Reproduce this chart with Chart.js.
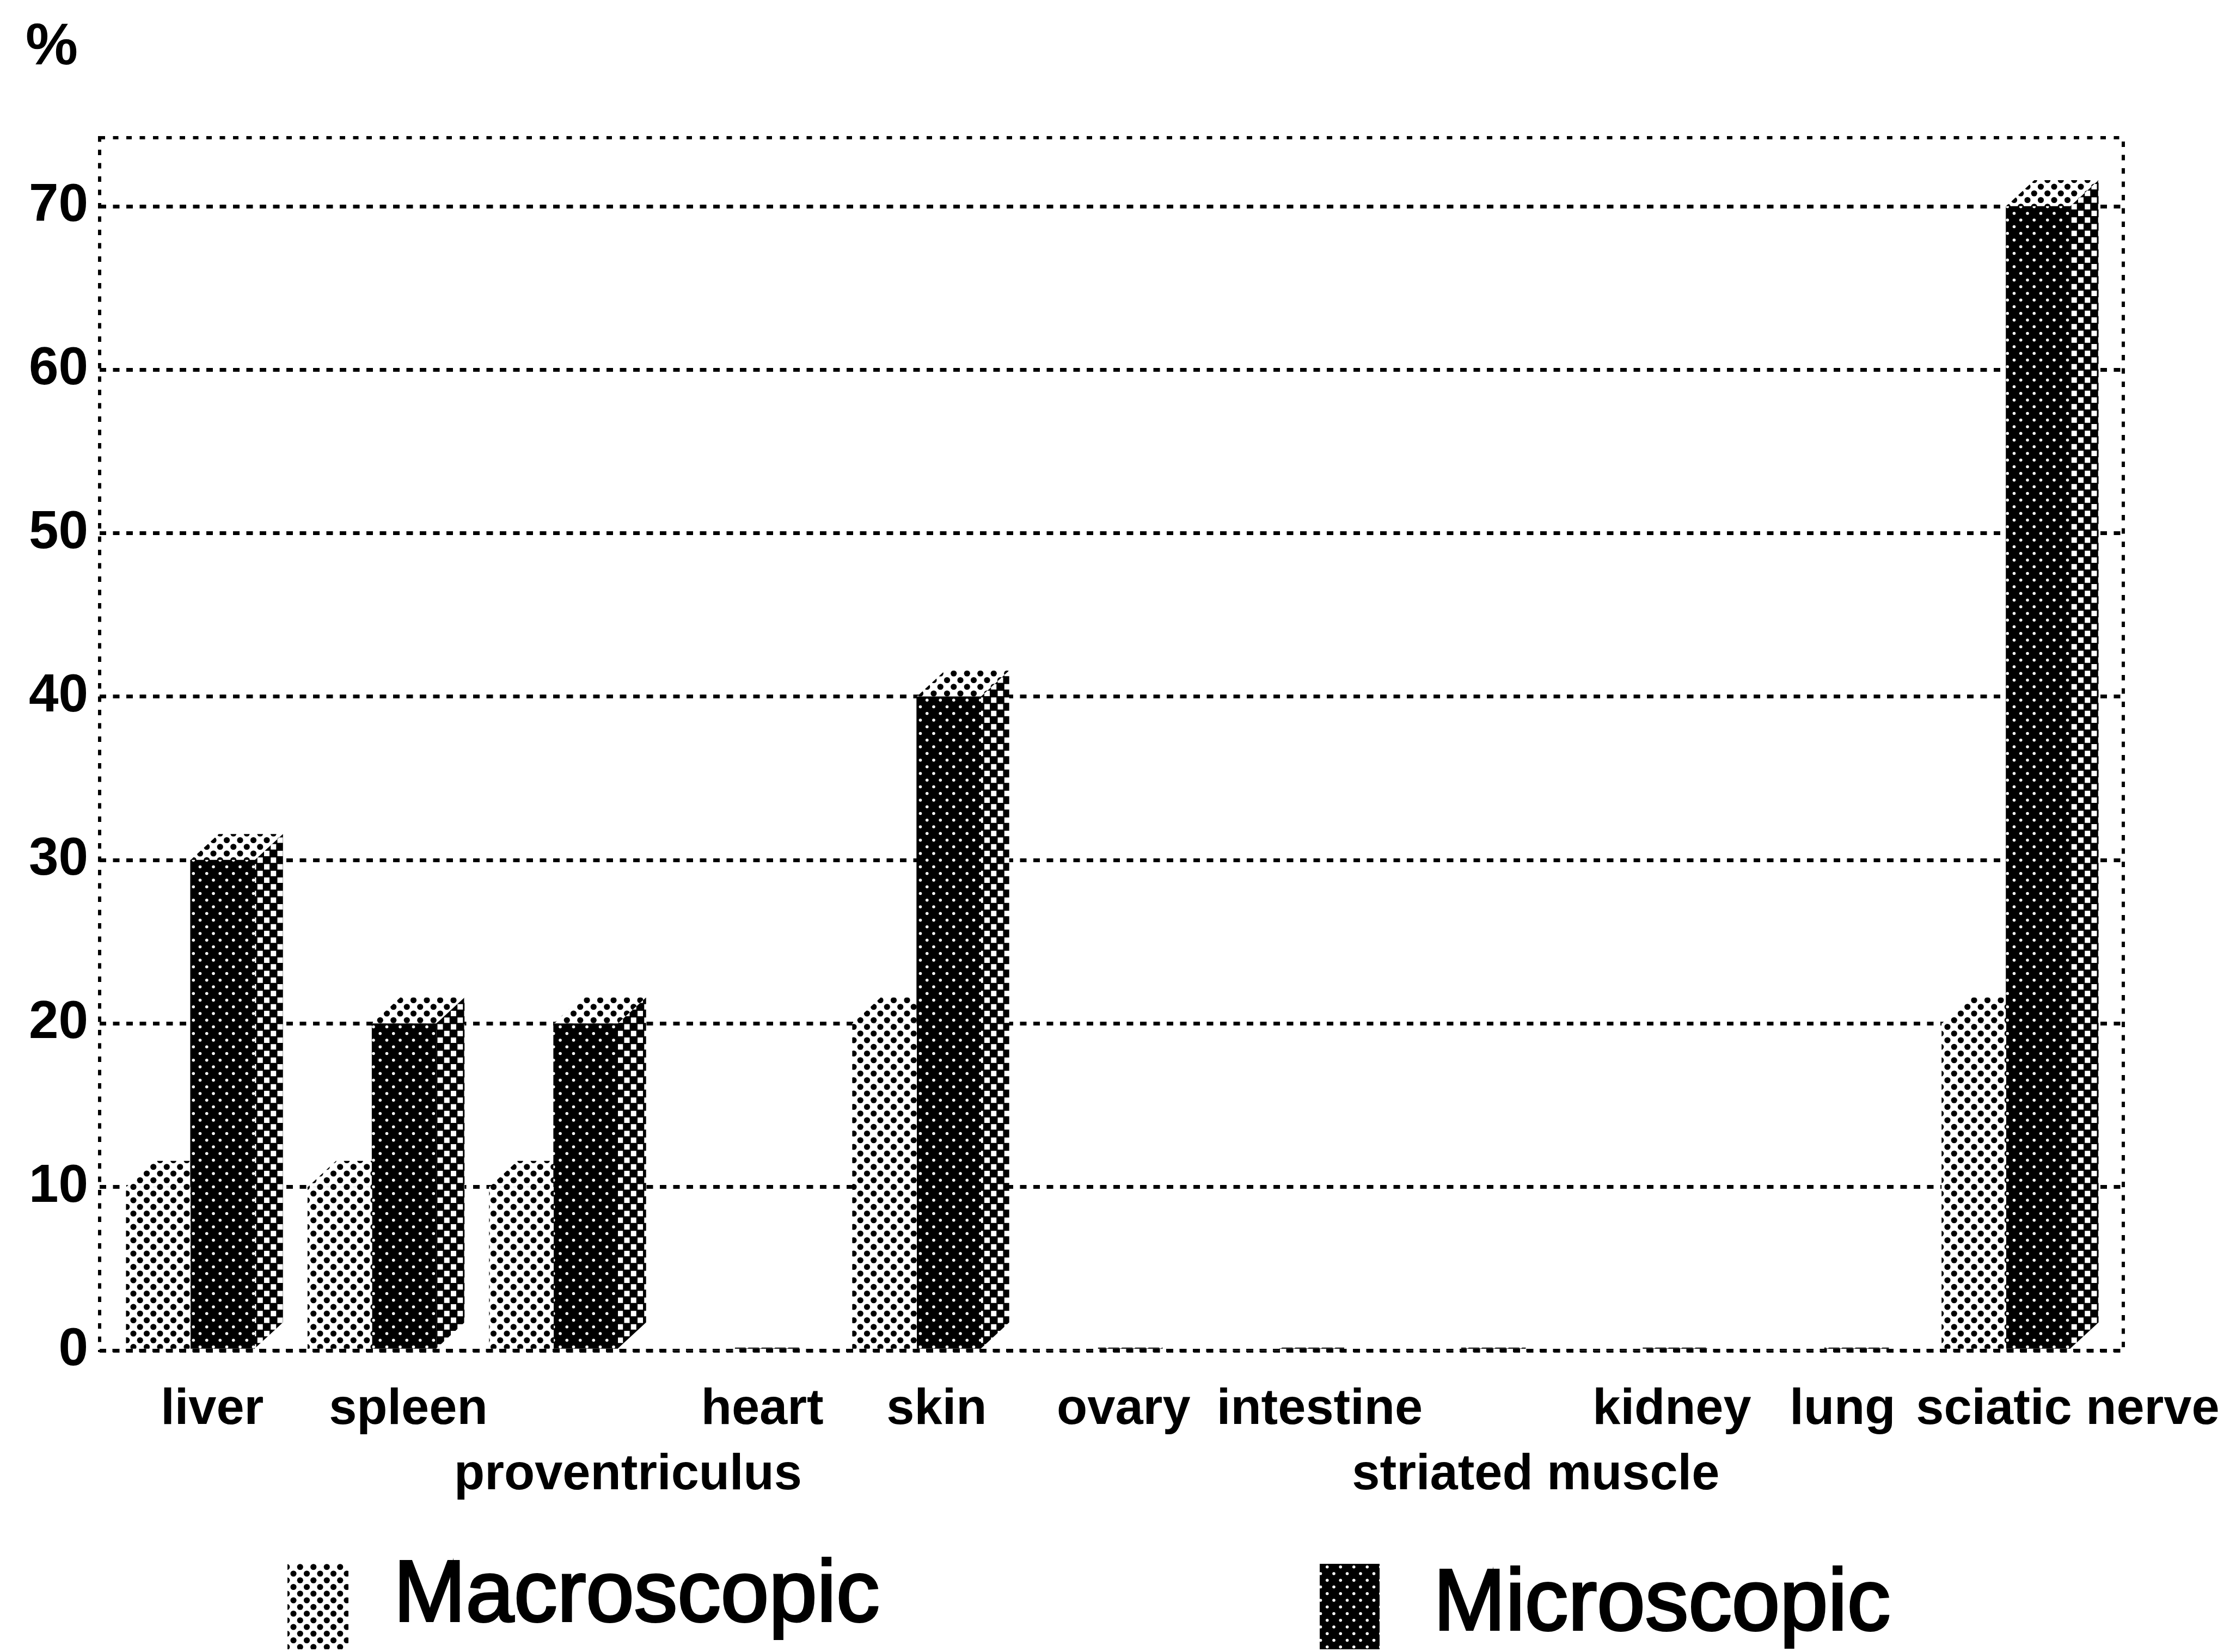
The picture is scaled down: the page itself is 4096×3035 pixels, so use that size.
<!DOCTYPE html>
<html>
<head>
<meta charset="utf-8">
<title>chart</title>
<style>
html,body{margin:0;padding:0;background:#fff;}
canvas{display:block;}
</style>
<script src="https://cdn.jsdelivr.net/npm/chart.js@4"></script>
</head>
<body>
<canvas id="myChart" width="4096" height="3035"></canvas>
<script>
// values
var categories = ['liver','spleen','proventriculus','heart','skin','ovary','intestine','striated muscle','kidney','lung','sciatic nerve'];
var macroscopic = [10,10,10,0,20,0,0,0,0,0,20];
var microscopic = [30,20,20,0,40,0,0,0,0,0,70];
var seriesNames = ['Macroscopic','Microscopic'];
var yTicks = [0,10,20,30,40,50,60,70];

// layout, in window pixels
var cellW = 24.5, cellH = 12.25;
var depthX = 52, depthY = 48;
var labelNudge = [.12,.20,.41,.15,.11,.14,.22,.41,.16,.10,.34]; // labels sit right of their bars
var secondRow = [2,7];

// halftone tile, everything in it on a staggered grid
function halftone(bg, fg, size, square){
	var tile = document.createElement('canvas');
	tile.width = 49; tile.height = 49;
	var c = tile.getContext('2d');
	c.fillStyle = bg;
	c.fillRect(0,0,49,49);
	c.fillStyle = fg;
	for(var row=-1; row<=4; row++){
		for(var col=-1; col<=2; col++){
			var x = col*cellW + (row%2 ? cellW/2 : 0);
			var y = row*cellH;
			if(square){
				c.fillRect(x-size,y-size,size*2,size*2);
			}else{
				c.beginPath();
				c.arc(x,y,size,0,Math.PI*2);
				c.fill();
			}
		}
	}
	return document.getElementById('myChart').getContext('2d').createPattern(tile,'repeat');
}

var lightDots = halftone('#fff','#000',5.6,false);
var darkFront = halftone('#000','#fff',2.8,false);
var darkSide = halftone('#000','#fff',5,true);

function poly(ctx, pts, fill){
	ctx.fillStyle = fill;
	ctx.beginPath();
	ctx.moveTo(pts[0][0],pts[0][1]);
	for(var i=1;i<pts.length;i++){ ctx.lineTo(pts[i][0],pts[i][1]); }
	ctx.closePath();
	ctx.fill();
}

// frame and the fake 3d depth go under the library's bars
var depthPlugin = {
	id:'depth',
	beforeDatasetsDraw:function(chart){
		var ctx = chart.ctx, a = chart.chartArea;
		ctx.save();
		ctx.strokeStyle = '#000';
		ctx.lineWidth = 6;
		ctx.setLineDash([10,14.5]);
		ctx.strokeRect(a.left,a.top,a.right-a.left,a.bottom-a.top);
		ctx.setLineDash([]);
		chart.data.datasets.forEach(function(ds,d){
			chart.getDatasetMeta(d).data.forEach(function(bar,i){
				if(!ds.data[i].y){ return; }
				var l = bar.x-bar.width/2, r = bar.x+bar.width/2;
				poly(ctx,[[l,bar.y],[l+depthX,bar.y-depthY],[r+depthX,bar.y-depthY],[r,bar.y]],lightDots);
				poly(ctx,[[r,bar.y],[r+depthX,bar.y-depthY],[r+depthX,bar.base-depthY],[r,bar.base]],d==0 ? lightDots : darkSide);
			});
		});
		ctx.restore();
	},
	afterDraw:function(chart){
		var ctx = chart.ctx;
		ctx.save();
		ctx.fillStyle = '#000';
		ctx.textBaseline = 'alphabetic';
		ctx.font = 'bold 108px "Liberation Sans"';
		ctx.fillText('%',47,118);
		// legend
		ctx.fillStyle = lightDots;
		ctx.fillRect(528,2873,112,157);
		ctx.fillStyle = darkFront;
		ctx.fillRect(2424,2873,110,157);
		ctx.fillStyle = '#000';
		ctx.strokeStyle = '#000';
		ctx.lineWidth = 4;
		ctx.font = '159px "Liberation Sans"';
		ctx.fillText(seriesNames[0],723,2978);
		ctx.strokeText(seriesNames[0],723,2978);
		ctx.fillText(seriesNames[1],2633,2994);
		ctx.strokeText(seriesNames[1],2633,2994);
		ctx.restore();
	}
};

var ctx = document.getElementById('myChart').getContext('2d');
var myChart = new Chart(ctx,{
	type:'bar',
	data:{
		datasets:[{
			label:seriesNames[0],
			data:categories.map(function(c,i){ return {x:i,y:macroscopic[i]}; }),
			backgroundColor:lightDots,
			barThickness:118,
			borderWidth:0
		},{
			label:seriesNames[1],
			data:categories.map(function(c,i){ return {x:i,y:microscopic[i]}; }),
			backgroundColor:darkFront,
			barThickness:118,
			minBarLength:5,
			borderWidth:0
		}]
	},
	plugins:[depthPlugin],
	options:{
		responsive:false,
		animation:false,
		devicePixelRatio:1,
		layout:{padding:{top:253,right:196,bottom:154,left:0}},
		plugins:{legend:{display:false},title:{display:false},tooltip:{enabled:false}},
		scales:{
			x:{
				type:'linear',
				offset:false,
				min:-0.5,
				max:10.646,
				afterFit:function(scale){
					scale.height = 400;
					// the long last label may hang past the plot
					scale.paddingLeft = 0;
					scale.paddingRight = 0;
				},
				afterBuildTicks:function(scale){
					scale.ticks = categories.map(function(c,i){ return {value:i+labelNudge[i]}; });
				},
				grid:{display:false},
				border:{display:false},
				ticks:{
					autoSkip:false,
					maxRotation:0,
					minRotation:0,
					padding:42,
					color:'#000',
					font:{family:'"Liberation Sans"',weight:'bold',size:92,lineHeight:1.3},
					callback:function(v,i){
						return secondRow.indexOf(i)>=0 ? ['',categories[i]] : categories[i];
					}
				}
			},
			y:{
				min:0,
				max:74.2,
				afterFit:function(scale){ scale.width = 183; },
				afterBuildTicks:function(scale){
					scale.ticks = yTicks.map(function(v){ return {value:v}; });
				},
				grid:{color:'#000',lineWidth:7,drawTicks:false},
				border:{display:false,dash:[12,12.5]},
				ticks:{
					padding:21,
					color:'#000',
					font:{family:'"Liberation Sans"',weight:'bold',size:98}
				}
			}
		}
	}
});
</script>
</body>
</html>
